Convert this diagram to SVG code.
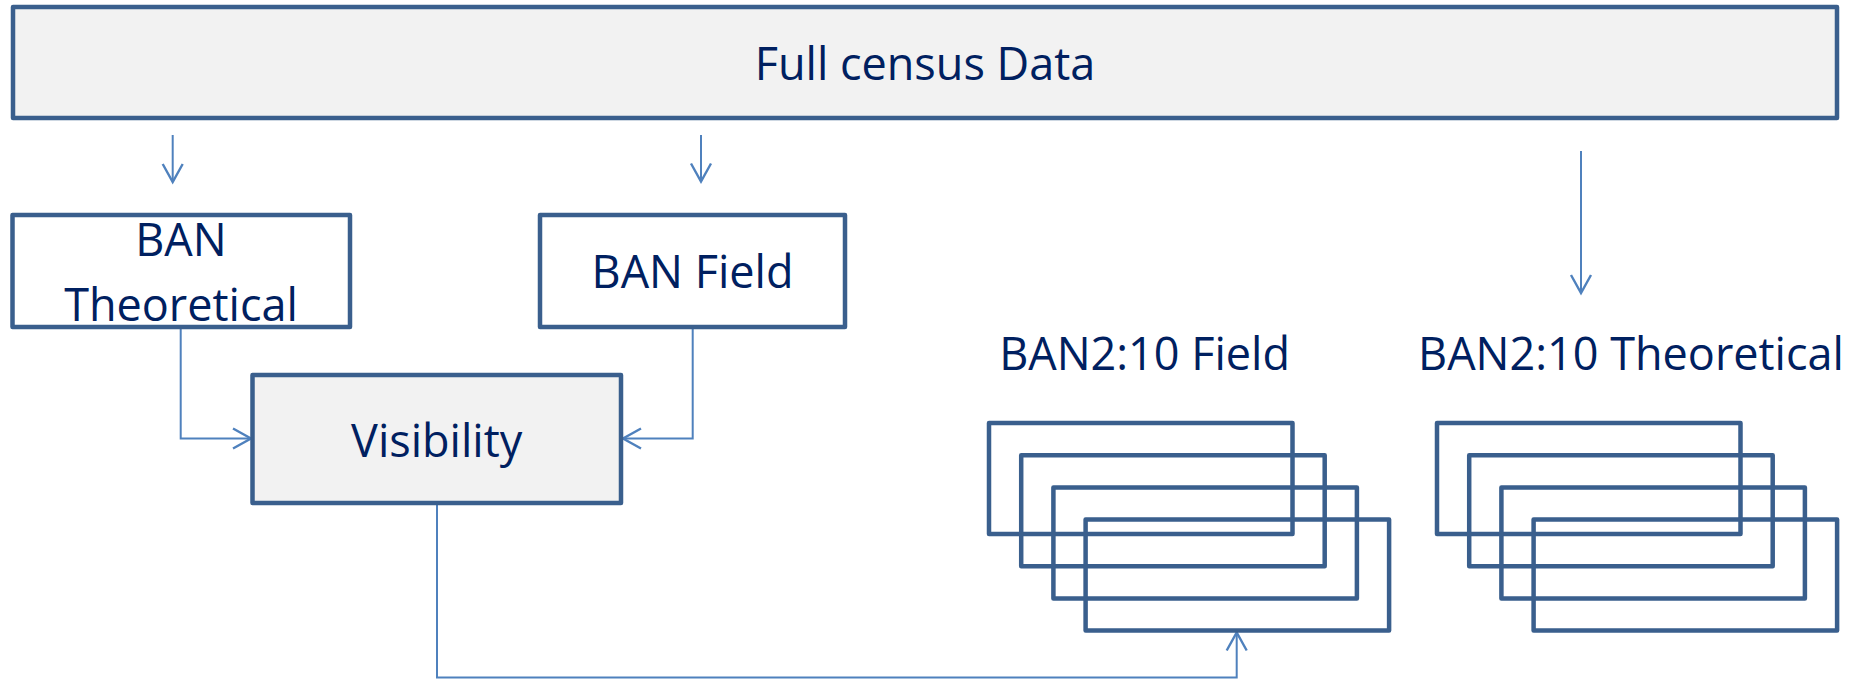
<svg xmlns="http://www.w3.org/2000/svg" width="1860" height="679" viewBox="0 0 1860 679">
<defs>
<style>
.box{fill:#f2f2f2;stroke:#3a5f8d;stroke-width:4.5;stroke-linejoin:round}
.wbox{fill:#ffffff;stroke:#3a5f8d;stroke-width:4.5;stroke-linejoin:round}
.frame{fill:none;stroke:#3a5f8d;stroke-width:4.5;stroke-linejoin:round}
.lbl{font-family:"Open Sans","Liberation Sans",sans-serif;font-size:45px;fill:#002060;text-anchor:middle}
.conn{fill:none;stroke:#4f81bd;stroke-width:2}
</style>
<marker id="arr" markerUnits="userSpaceOnUse" viewBox="-20 -12 22 24" refX="0" refY="0" markerWidth="22" markerHeight="24" orient="auto" overflow="visible">
<path d="M-18,-10 L0,0 L-18,10" fill="none" stroke="#4f81bd" stroke-width="2.4"/>
</marker>
</defs>
<rect width="1860" height="679" fill="#ffffff"/>
<g id="connectors">
<path class="conn" d="M172.7,135 V182" marker-end="url(#arr)"/>
<path class="conn" d="M701,135 V181.5" marker-end="url(#arr)"/>
<path class="conn" d="M1581,151 V293" marker-end="url(#arr)"/>
<path class="conn" d="M180.7,327 V438.5 H251" marker-end="url(#arr)"/>
<path class="conn" d="M692.7,327 V438.5 H623" marker-end="url(#arr)"/>
<path class="conn" d="M437,503 V677.5 H1236.7 V632.5" marker-end="url(#arr)"/>
</g>
<g id="full-census">
<rect class="box" x="13" y="7" width="1824" height="111"/>
<text class="lbl" x="925" y="80">Full census Data</text>
</g>
<g id="ban-theoretical">
<rect class="wbox" x="12.5" y="215" width="337.5" height="112"/>
<text class="lbl" x="181" y="256">BAN</text>
<text class="lbl" x="181" y="321">Theoretical</text>
</g>
<g id="ban-field">
<rect class="wbox" x="540" y="215" width="305" height="112"/>
<text class="lbl" x="692.5" y="288">BAN Field</text>
</g>
<g id="visibility">
<rect class="box" x="252.5" y="375" width="368.5" height="128"/>
<text class="lbl" x="436.7" y="457">Visibility</text>
</g>
<g id="ban210-field">
<text class="lbl" x="1144.6" y="370">BAN2:10 Field</text>
<rect class="frame" x="989" y="423" width="303.5" height="111"/>
<rect class="frame" x="1021.2" y="455.2" width="303.5" height="111"/>
<rect class="frame" x="1053.4" y="487.4" width="303.5" height="111"/>
<rect class="frame" x="1085.6" y="519.6" width="303.5" height="111"/>
</g>
<g id="ban210-theoretical">
<text class="lbl" x="1631" y="370">BAN2:10 Theoretical</text>
<rect class="frame" x="1437" y="423" width="303.5" height="111"/>
<rect class="frame" x="1469.2" y="455.2" width="303.5" height="111"/>
<rect class="frame" x="1501.4" y="487.4" width="303.5" height="111"/>
<rect class="frame" x="1533.6" y="519.6" width="303.5" height="111"/>
</g>
</svg>
